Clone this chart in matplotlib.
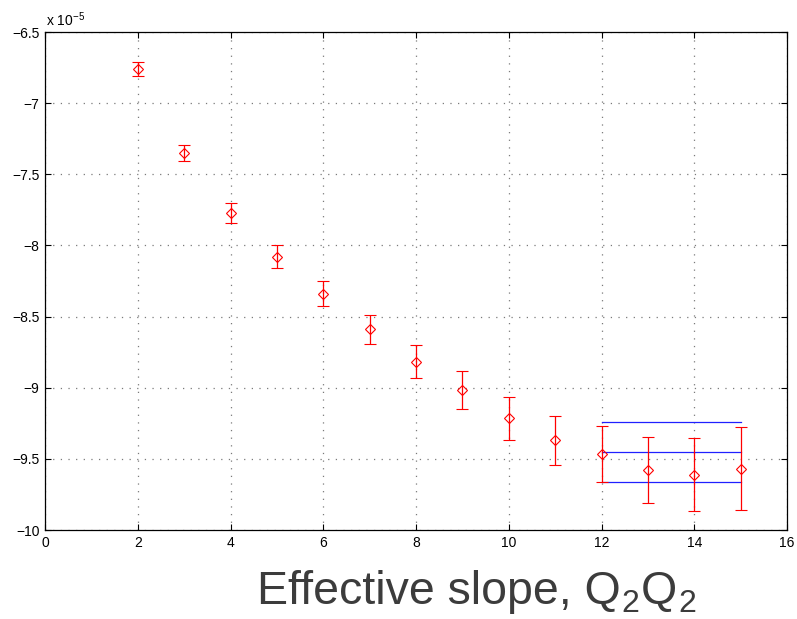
import matplotlib
matplotlib.use("Agg")
import matplotlib.pyplot as plt

plt.rcParams['font.family'] = ['Liberation Sans', 'DejaVu Sans']
plt.rcParams['mathtext.fontset'] = 'custom'
plt.rcParams['mathtext.rm'] = 'Liberation Sans'
plt.rcParams['mathtext.it'] = 'Liberation Sans'
plt.rcParams['lines.scale_dashes'] = False

# Effective slope estimates (units of 1e-5) versus fit window start
t_start = [2, 3, 4, 5, 6, 7, 8, 9, 10, 11, 12, 13, 14, 15]
slope = [-6.76, -7.352, -7.774, -8.079, -8.341, -8.589, -8.819,
         -9.016, -9.215, -9.369, -9.466, -9.578, -9.611, -9.569]
slope_err = [0.047, 0.058, 0.070, 0.080, 0.088, 0.102, 0.116,
             0.131, 0.149, 0.171, 0.199, 0.230, 0.258, 0.293]

# Plateau fit over the last window: central value and band
plateau_range = [12, 15]
plateau_mean = -9.454
plateau_err = 0.212

x_ticks = [0, 2, 4, 6, 8, 10, 12, 14, 16]
y_ticks = [-10, -9.5, -9, -8.5, -8, -7.5, -7, -6.5]
y_tick_labels = ['\u221210', '\u22129.5', '\u22129', '\u22128.5', '\u22128',
                 '\u22127.5', '\u22127', '\u22126.5']

fig = plt.figure(figsize=(7.97, 6.19), dpi=100)
ax = fig.add_axes([45 / 797, 89 / 619, 742 / 797, 498 / 619])

ax.errorbar(t_start, slope, yerr=slope_err, fmt='D', color='#ff0000',
            mfc='none', mec='#ff0000', ms=5.6, mew=0.8, elinewidth=0.9,
            capsize=4.3, capthick=0.9, zorder=3)

for level in (plateau_mean + plateau_err, plateau_mean, plateau_mean - plateau_err):
    ax.plot(plateau_range, [level, level], color='#2020ff', lw=0.9, zorder=2)

ax.set_xlim(0, 16)
ax.set_ylim(-10, -6.5)
ax.set_xticks(x_ticks)
ax.set_yticks(y_ticks)
ax.set_yticklabels(y_tick_labels)
ax.tick_params(direction='in', length=4.5, width=0.8, labelsize=10,
               top=True, right=True, pad=4, colors='black')
for sp in ax.spines.values():
    sp.set_linewidth(0.9)
ax.grid(True, color='#7a7a7a', linestyle=(0, (0.9, 4.6)), linewidth=0.9)
ax.set_axisbelow(True)

fig.text(46 / 797, 1 - 26 / 619, 'x 10$^{\\mathregular{\u22125}}$', fontsize=10,
         ha='left', va='baseline')

# Axis caption with hand-placed subscripts
renderer = fig.canvas.get_renderer()
label_color = '#3c3c3c'
pieces = [('Effective slope, Q', 33.5, 0), ('2', 23, -8), ('Q', 33.5, 0), ('2', 23, -8)]
x_px = 257.0
base_px = 604.0
for txt, size, dy in pieces:
    t = fig.text(x_px / 797, 1 - (base_px - dy) / 619, txt, fontsize=size,
                 color=label_color, ha='left', va='baseline')
    bb = t.get_window_extent(renderer=renderer)
    x_px += bb.width + 1

fig.savefig('out.png', dpi=100)
